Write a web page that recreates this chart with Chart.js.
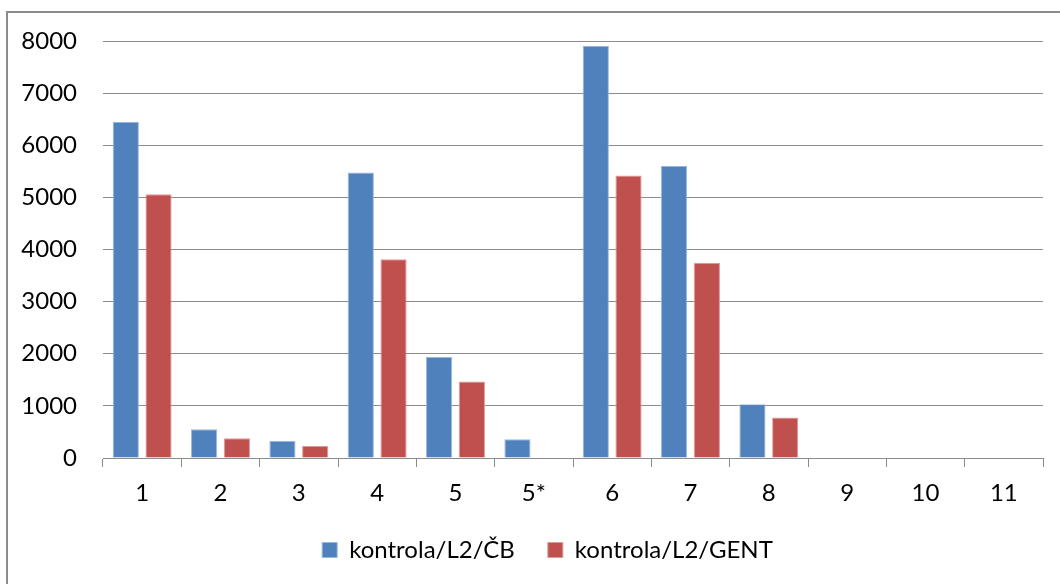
<!DOCTYPE html>
<html>
<head>
<meta charset="utf-8">
<script src="https://cdn.jsdelivr.net/npm/chart.js@4"></script>
<style>
  html, body { margin: 0; padding: 0; background: #fff; }
  #wrap { position: relative; width: 1060px; height: 584px; overflow: hidden; }
  #frame { position: absolute; left: 6px; top: 11px; width: 1100px; height: 600px;
           border-left: 2px solid #8c8c8c; border-top: 2px solid #8c8c8c; box-sizing: border-box; }
  canvas { position: absolute; left: 0; top: 0; }
</style>
</head>
<body>
<div id="wrap">
  <div id="frame"></div>
  <canvas id="c" width="1060" height="584"></canvas>
</div>
<script>
const categories = ['1', '2', '3', '4', '5', '5*', '6', '7', '8', '9', '10', '11'];
const seriesNames = ['kontrola/L2/ČB', 'kontrola/L2/GENT'];
const valuesCB   = [6450, 550, 330, 5475, 1936, 360, 7910, 5600, 1030, null, null, null];
const valuesGENT = [5060, 380, 230, 3815, 1467, null, 5420, 3745, 775, null, null, null];
const yTicks = [0, 1000, 2000, 3000, 4000, 5000, 6000, 7000, 8000];

const fontFamily = 'Lato, "Open Sans", sans-serif';
const fontSize = 24;
const gray = '#8c8c8c';

// nudge the legend row to the right so it sits under the middle of the framed area
const legendShift = {
  id: 'legendShift',
  afterLayout(chart) {
    const lg = chart.legend;
    if (lg) { lg.left += 26; lg.right += 26; }
  }
};

new Chart(document.getElementById('c'), {
  type: 'bar',
  data: {
    labels: categories,
    datasets: [
      { label: seriesNames[0], data: valuesCB, backgroundColor: '#4F81BD',
        borderColor: '#9ab7dc', borderWidth: 1, borderSkipped: 'bottom' },
      { label: seriesNames[1], data: valuesGENT, backgroundColor: '#C0504D',
        borderColor: '#dc9b99', borderWidth: 1, borderSkipped: 'bottom' }
    ]
  },
  plugins: [legendShift],
  options: {
    responsive: false,
    animation: false,
    datasets: { bar: { categoryPercentage: 0.836, barPercentage: 0.8 } },
    layout: { padding: { top: 41, right: 17, left: 0, bottom: 12 } },
    plugins: {
      legend: {
        position: 'bottom',
        labels: {
          font: { family: fontFamily, size: fontSize },
          color: '#000',
          boxWidth: 15, boxHeight: 15,
          padding: 33
        }
      },
      tooltip: { enabled: false }
    },
    scales: {
      x: {
        grid: { offset: true, drawOnChartArea: false, drawTicks: true, tickLength: 9, color: gray, lineWidth: 1 },
        border: { display: true, color: gray, width: 1 },
        ticks: { font: { family: fontFamily, size: fontSize }, color: '#000', padding: 12, maxRotation: 0 },
        afterFit(scale) { scale.height = 47; }
      },
      y: {
        min: 0, max: 8000,
        afterBuildTicks(scale) { scale.ticks = yTicks.map(v => ({ value: v })); },
        grid: { drawTicks: false, color: gray, lineWidth: 1 },
        border: { display: false },
        ticks: { font: { family: fontFamily, size: fontSize }, color: '#000', padding: 26,
                 callback: v => String(v) },
        afterFit(scale) { scale.width = 103; }
      }
    }
  }
});
</script>
</body>
</html>
